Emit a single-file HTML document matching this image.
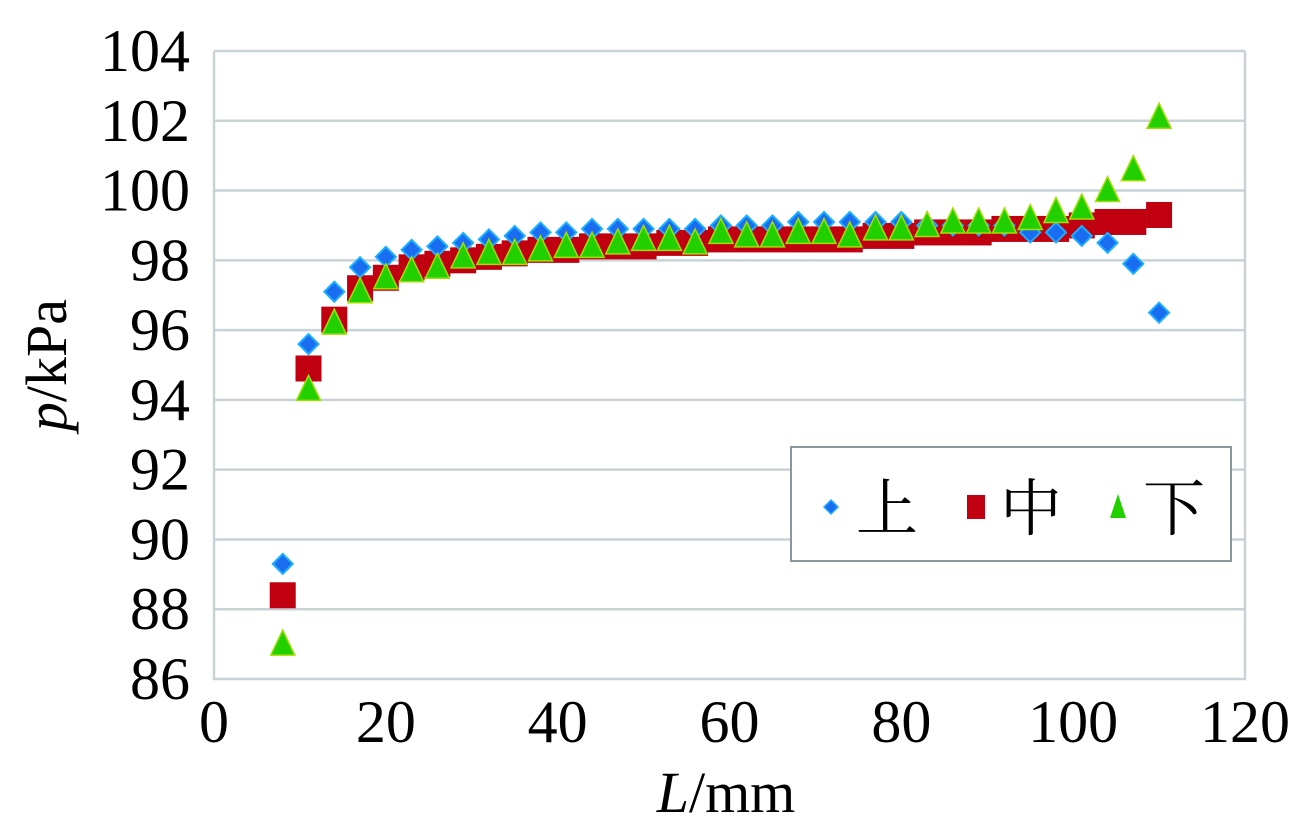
<!DOCTYPE html>
<html><head><meta charset="utf-8"><style>
html,body{margin:0;padding:0;background:#fff;}
svg text{font-family:"Liberation Serif","Noto Serif CJK SC",serif;fill:#000;}
</style></head><body>
<svg id="chart" width="1314" height="828" viewBox="0 0 1314 828" xmlns="http://www.w3.org/2000/svg">
<g id="grid"></g><g id="marks"></g><g id="ticks"></g>
<text transform="translate(66,365) rotate(-90)" text-anchor="middle" font-size="58"><tspan font-style="italic">p</tspan>/kPa</text>
<text x="726" y="812" text-anchor="middle" font-size="58"><tspan font-style="italic">L</tspan>/mm</text>
<g>
<rect x="791" y="447" width="440" height="114" fill="#fff" stroke="#8a979c" stroke-width="2"/>
<path d="M831,500 l7,7 l-7,7 l-7,-7z" fill="#1a6cf0" stroke="#1ab0ff" stroke-width="1.5"/>
<text x="856" y="530" font-size="62">上</text>
<rect x="967" y="495" width="18" height="24" fill="#c00010"/>
<text x="1000" y="530" font-size="62">中</text>
<path d="M1118,494 l8,24 l-16,0z" fill="#22d000"/>
<text x="1143" y="530" font-size="62">下</text>
</g>
</svg>
<script>
const xs=[8,11,14,17,20,23,26,29,32,35,38,41,44,47,50,53,56,59,62,65,68,71,74,77,80,83,86,89,92,95,98,101,104,107,110];
const upper=[89.3,95.6,97.1,97.8,98.1,98.3,98.4,98.5,98.6,98.7,98.8,98.8,98.9,98.9,98.9,98.9,98.9,99.0,99.0,99.0,99.1,99.1,99.1,99.1,99.1,99.0,99.0,99.0,99.0,98.8,98.8,98.7,98.5,97.9,96.5];
const middle=[88.4,94.9,96.3,97.2,97.5,97.8,97.9,98.0,98.1,98.2,98.3,98.3,98.4,98.4,98.4,98.5,98.5,98.6,98.6,98.6,98.6,98.6,98.6,98.7,98.7,98.8,98.8,98.8,98.9,98.9,98.9,99.0,99.1,99.1,99.3];
const lower=[87.0,94.3,96.2,97.1,97.5,97.7,97.8,98.1,98.2,98.2,98.3,98.4,98.4,98.5,98.6,98.6,98.5,98.8,98.7,98.7,98.8,98.8,98.7,98.9,98.9,99.0,99.1,99.1,99.1,99.2,99.4,99.5,100.0,100.6,102.1];
const xTicks=[0,20,40,60,80,100,120];
const yTicks=[86,88,90,92,94,96,98,100,102,104];
const X0=214,X1=1245,Y0=679,Y1=51;
function sx(v){return X0+(v-0)/(120-0)*(X1-X0);}
function sy(v){return Y0-(v-86)/(104-86)*(Y0-Y1);}
const NS='http://www.w3.org/2000/svg';
function mk(tag,attrs,parent){const e=document.createElementNS(NS,tag);for(const k in attrs)e.setAttribute(k,attrs[k]);parent.appendChild(e);return e;}
const grid=document.getElementById('grid'),marks=document.getElementById('marks'),ticks=document.getElementById('ticks');
yTicks.forEach(t=>{
 if(t>86){const l=mk('line',{x1:X0,x2:X1,y1:sy(t),y2:sy(t),stroke:'#c9d2d6','stroke-width':2.5},grid);
 
 }
 const tx=mk('text',{x:190,y:sy(t)+20,'text-anchor':'end','font-size':60},ticks);tx.textContent=t;
 
 
});
const frame=mk('path',{d:`M${X0},${Y1} L${X0},${Y0} L${X1},${Y0} L${X1},${Y1}`,fill:'none',stroke:'#c9d2d6','stroke-width':2.5},grid);


xTicks.forEach(t=>{
 const tx=mk('text',{x:sx(t),y:742,'text-anchor':'middle','font-size':60},ticks);tx.textContent=t;
 
 
});
xs.forEach((x,i)=>{
 const cx=sx(x);
 const s=mk('rect',{x:cx-13,y:sy(middle[i])-13,width:26,height:26,fill:'#c00010'},marks);
 
 
});
xs.forEach((x,i)=>{
 const cx=sx(x),cy=sy(upper[i]);
 const d=mk('path',{d:`M${cx},${cy-10} l10,10 l-10,10 l-10,-10z`,fill:'#1a6cf0',stroke:'#1ab0ff','stroke-width':2},marks);
 
 
});
xs.forEach((x,i)=>{
 const cx=sx(x),cy=sy(lower[i]);
 const p=mk('path',{d:`M${cx},${cy-14} L${cx+12},${cy+11} L${cx-12},${cy+11}z`,fill:'#22d000',stroke:'#a0e000','stroke-width':1.5},marks);
 
 
});
</script>
</body></html>
